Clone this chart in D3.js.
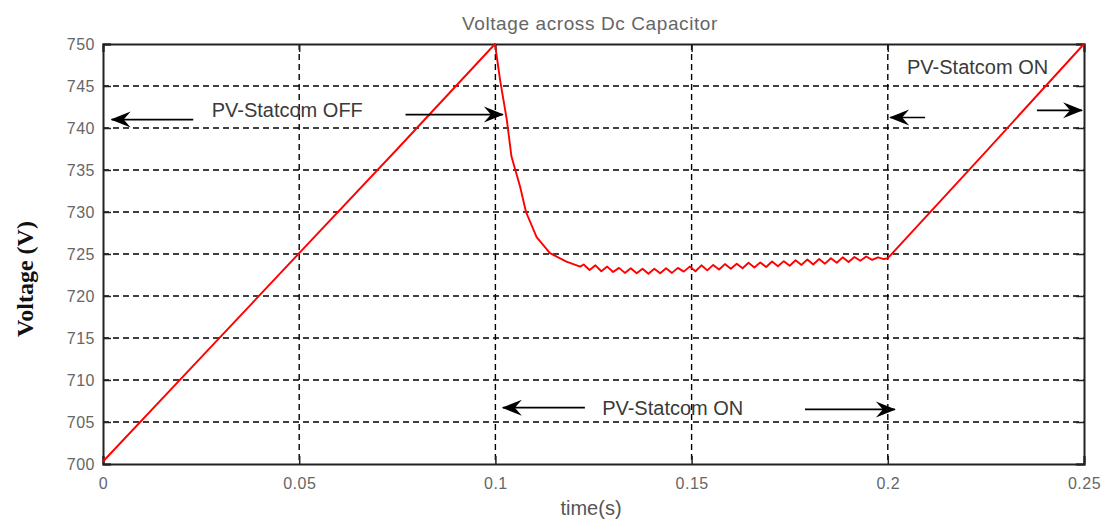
<html>
<head>
<script src="https://d3js.org/d3.v7.min.js"></script>
<style>
  body { margin: 0; background: #fff; }
</style>
</head>
<body>
<script>

// DC capacitor voltage (time in s, volts)
let time = [0, 0.025, 0.05, 0.075, 0.0999,
  0.1012, 0.1029, 0.1041, 0.1063, 0.1078, 0.1105, 0.1139, 0.1181, 0.1216,
  0.1225, 0.1240, 0.1255, 0.1270, 0.1285, 0.1300, 0.1315, 0.1330, 0.1345, 0.1360,
  0.1375, 0.1390, 0.1405, 0.1420, 0.1435, 0.1450, 0.1465, 0.1480, 0.1495, 0.1510,
  0.1525, 0.1540, 0.1555, 0.1570, 0.1585, 0.1600, 0.1615, 0.1630, 0.1645, 0.1660,
  0.1675, 0.1690, 0.1705, 0.1720, 0.1735, 0.1750, 0.1765, 0.1780, 0.1795, 0.1810,
  0.1825, 0.1840, 0.1855, 0.1870, 0.1885, 0.1900, 0.1915, 0.1930, 0.1945, 0.1960,
  0.1975, 0.1990, 0.2000, 0.225, 0.25];
let voltage = [700.3, 712.7, 725.1, 737.5, 750,
  745.7, 741, 736.6, 733, 730, 727, 725.1, 724.1, 723.5,
  723.75, 723.1, 723.65, 722.95, 723.5, 722.85, 723.35, 722.75, 723.3, 722.7,
  723.25, 722.65, 723.25, 722.7, 723.3, 722.75, 723.35, 722.9, 723.5, 722.95,
  723.65, 723.05, 723.7, 723.15, 723.8, 723.25, 723.85, 723.3, 723.95, 723.4,
  724.0, 723.45, 724.1, 723.55, 724.15, 723.6, 724.25, 723.7, 724.35, 723.75,
  724.4, 723.85, 724.5, 723.95, 724.6, 724.05, 724.65, 724.2, 724.7, 724.3,
  724.6, 724.4, 724.5, 737.2, 750];

let xTicks = [0, 0.05, 0.1, 0.15, 0.2, 0.25];
let xTickLabels = ["0", "0.05", "0.1", "0.15", "0.2", "0.25"];
let yTicks = [700, 705, 710, 715, 720, 725, 730, 735, 740, 745, 750];

// annotations in data units: [tail t, tip t, volts]
let arrows = [
  [0.023, 0.0022, 741.0],
  [0.0771, 0.1019, 741.6],
  [0.1228, 0.1019, 706.7],
  [0.1789, 0.2018, 706.5],
  [0.2095, 0.2006, 741.25],
  [0.238, 0.2495, 742.1]
];
let labels = [
  ["PV-Statcom OFF", 0.0277, 741.3],
  ["PV-Statcom ON", 0.1272, 705.8],
  ["PV-Statcom ON", 0.2049, 746.4]
];

let W = 1102, H = 522;
let plotL = 103, plotR = 1084, plotT = 44, plotB = 464;
let sans = "Liberation Sans, Arial, sans-serif";

let svg = d3.select("body").append("svg")
  .attr("width", W)
  .attr("height", H);

let x = d3.scaleLinear().domain([0, 0.25]).range([plotL, plotR]);
let y = d3.scaleLinear().domain([700, 750]).range([plotB, plotT]);

// grid
svg.append("g").selectAll("line")
  .data(xTicks.slice(1, -1))
  .enter().append("line")
  .attr("x1", d => x(d)).attr("x2", d => x(d))
  .attr("y1", plotT).attr("y2", plotB)
  .attr("stroke", "#000").attr("stroke-width", 1.4)
  .attr("stroke-dasharray", "6,4");

svg.append("g").selectAll("line")
  .data(yTicks.slice(1, -1))
  .enter().append("line")
  .attr("x1", plotL).attr("x2", plotR)
  .attr("y1", d => y(d)).attr("y2", d => y(d))
  .attr("stroke", "#000").attr("stroke-width", 1.4)
  .attr("stroke-dasharray", "6,4");

// axes, ticks pointing inward like matlab
svg.append("g")
  .attr("transform", "translate(0," + plotB + ")")
  .call(d3.axisBottom(x).tickValues(xTicks).tickSize(-8).tickPadding(14)
    .tickFormat((d, i) => xTickLabels[i]));
svg.append("g")
  .attr("transform", "translate(" + plotL + ",0)")
  .call(d3.axisLeft(y).tickValues(yTicks).tickSize(-8).tickPadding(8));
svg.append("g")
  .attr("transform", "translate(0," + plotT + ")")
  .call(d3.axisTop(x).tickValues(xTicks).tickSize(-8).tickFormat(""));
svg.append("g")
  .attr("transform", "translate(" + plotR + ",0)")
  .call(d3.axisRight(y).tickValues(yTicks).tickSize(-8).tickFormat(""));

svg.selectAll(".domain").attr("stroke", "#222").attr("stroke-width", 2);
svg.selectAll(".tick line").attr("stroke", "#222").attr("stroke-width", 1.5);
svg.selectAll(".tick text")
  .style("font-family", sans)
  .style("font-size", "16px")
  .style("letter-spacing", "0.5px")
  .attr("fill", "#666");

// the curve
let pts = time.map((t, i) => [t, voltage[i]]);
svg.append("path")
  .datum(pts)
  .attr("fill", "none")
  .attr("stroke", "#ff0000")
  .attr("stroke-width", 1.9)
  .attr("stroke-linejoin", "round")
  .attr("d", d3.line().x(d => x(d[0])).y(d => y(d[1])));

// arrows
let arrowG = svg.append("g").selectAll("g")
  .data(arrows)
  .enter().append("g");
arrowG.append("line")
  .attr("x1", d => x(d[0])).attr("x2", d => x(d[1]))
  .attr("y1", d => y(d[2])).attr("y2", d => y(d[2]))
  .attr("stroke", "#000").attr("stroke-width", 1.7);
arrowG.append("path")
  .attr("d", "M1,0 L-19,-8 L-12,0 L-19,8 Z")
  .attr("fill", "#000")
  .attr("transform", d => "translate(" + x(d[1]) + "," + y(d[2]) + ")" +
    (d[1] < d[0] ? " rotate(180)" : ""));

svg.append("g").selectAll("text")
  .data(labels)
  .enter().append("text")
  .attr("x", d => x(d[1]))
  .attr("y", d => y(d[2]))
  .style("font-family", sans)
  .style("font-size", "20px")
  .attr("fill", "#3a3a3a")
  .text(d => d[0]);

// titles
svg.append("text")
  .attr("x", 590).attr("y", 30)
  .attr("text-anchor", "middle")
  .style("font-family", sans)
  .style("font-size", "19px")
  .style("letter-spacing", "0.6px")
  .attr("fill", "#666")
  .text("Voltage across Dc Capacitor");

svg.append("text")
  .attr("x", 591).attr("y", 515)
  .attr("text-anchor", "middle")
  .style("font-family", sans)
  .style("font-size", "20px")
  .attr("fill", "#555")
  .text("time(s)");

svg.append("text")
  .attr("transform", "translate(33,279) rotate(-90)")
  .attr("text-anchor", "middle")
  .style("font-family", "Liberation Serif, Times New Roman, serif")
  .style("font-weight", "bold")
  .style("font-size", "24px")
  .attr("fill", "#111")
  .text("Voltage (V)");

</script>
</body>
</html>
